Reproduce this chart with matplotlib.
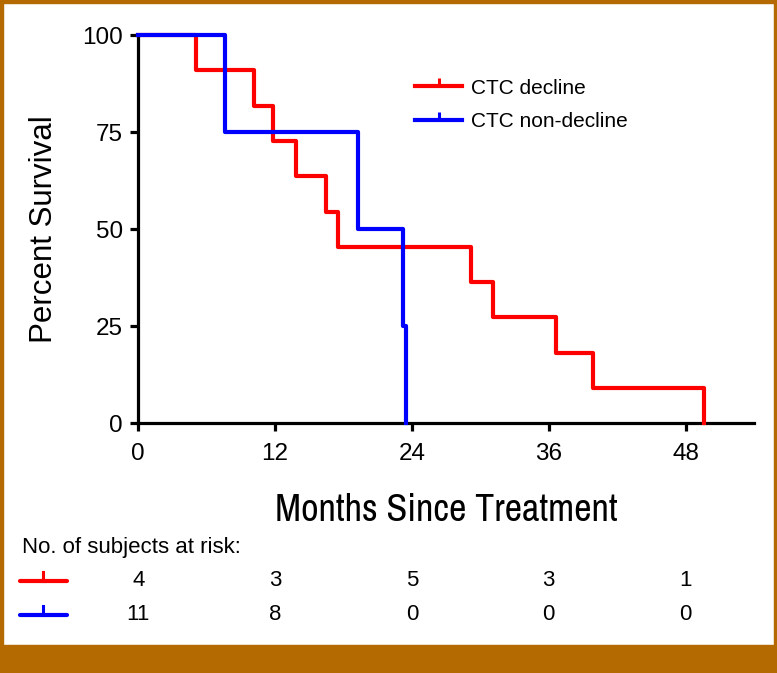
import matplotlib
matplotlib.use("Agg")
import matplotlib.pyplot as plt
import matplotlib.transforms as mtransforms
from matplotlib.lines import Line2D
from matplotlib.path import Path
from matplotlib.patches import Rectangle
from matplotlib import font_manager

# ---- data ----
decline_times = [0, 5.1, 10.15, 11.85, 13.8, 16.5, 17.5, 29.2, 31.1, 36.6, 39.9, 49.6]
decline_surv = [100, 90.9, 81.8, 72.7, 63.6, 54.5, 45.5, 36.4, 27.3, 18.2, 9.1, 0]
nondecline_times = [0, 7.6, 19.3, 23.2, 23.5]
nondecline_surv = [100, 75, 50, 25, 0]
series_labels = ["CTC decline", "CTC non-decline"]
xticks = [0, 12, 24, 36, 48]
yticks = [0, 25, 50, 75, 100]
risk_decline = [4, 3, 5, 3, 1]
risk_nondecline = [11, 8, 0, 0, 0]

RED = "#FF0000"
BLUE = "#0000FF"
FRAME = "#B46A00"

names = {f.name for f in font_manager.fontManager.ttflist}
REG = "Liberation Sans"
NARROW = "Archivo Narrow" if "Archivo Narrow" in names else "Liberation Sans"

W, H = 777, 673
fig = plt.figure(figsize=(W / 100, H / 100), dpi=100)
fig.patch.set_facecolor("white")

# frame
fig.add_artist(Rectangle((0, 0), 1, 28 / H, transform=fig.transFigure, color=FRAME, zorder=0))
fig.add_artist(Rectangle((0, 0), 3 / W, 1, transform=fig.transFigure, color=FRAME, zorder=0))
fig.add_artist(Rectangle((1 - 3 / W, 0), 3 / W, 1, transform=fig.transFigure, color=FRAME, zorder=0))
fig.add_artist(Rectangle((0, 1 - 3 / H), 1, 3 / H, transform=fig.transFigure, color=FRAME, zorder=0))

left, right = 138.3 / W, 754 / W
bottom, top = 1 - 423.3 / H, 1 - 35 / H
ax = fig.add_axes([left, bottom, right - left, top - bottom])

ax.step(decline_times, decline_surv, where="post", color=RED, lw=3.0, clip_on=False, zorder=3)
ax.step(nondecline_times, nondecline_surv, where="post", color=BLUE, lw=3.0, clip_on=False, zorder=4)

ax.set_xlim(0, 54)
ax.set_ylim(0, 100)
for s in ["top", "right"]:
    ax.spines[s].set_visible(False)
for s in ["left", "bottom"]:
    ax.spines[s].set_linewidth(2.3)
ax.set_xticks(xticks)
ax.set_yticks(yticks)
ax.tick_params(axis="both", direction="out", length=6, width=2.3)
ax.tick_params(axis="y", pad=5)
ax.tick_params(axis="x", pad=8)
for lab in ax.get_yticklabels():
    lab.set_fontfamily(REG)
    lab.set_fontsize(17.5)
for lab in ax.get_xticklabels():
    lab.set_fontfamily(REG)
    lab.set_fontsize(17.5)

ax.set_ylabel("Percent Survival", fontfamily=REG, fontsize=22.5, labelpad=17)
ax.set_xlabel("Months Since Treatment", fontfamily=NARROW, fontsize=27.5, labelpad=20)

tick_marker = Path([(0, 0), (0, 1)], [Path.MOVETO, Path.LINETO])
h_red = Line2D([], [], color=RED, lw=3, marker=tick_marker, markersize=11, markeredgewidth=2.2)
h_blue = Line2D([], [], color=BLUE, lw=3, marker=tick_marker, markersize=11, markeredgewidth=2.2)
fig.legend([h_red, h_blue], series_labels, loc="center left",
           bbox_to_anchor=(405 / W, 1 - 105 / H), frameon=False, borderpad=0,
           handlelength=2.25, handletextpad=0.42, labelspacing=0.7,
           prop={"family": REG, "size": 15}, numpoints=1)

# risk table
rax = fig.add_axes([left, 1 - 630 / H, right - left, 100 / H])
rax.set_xlim(0, 54)
rax.set_ylim(0, 1)
rax.axis("off")
blend = mtransforms.blended_transform_factory(rax.transData, fig.transFigure)
fig.text(22 / W, 1 - 548 / H, "No. of subjects at risk:", fontfamily=REG, fontsize=16,
         va="center", ha="left")
row_y = [1 - 581 / H, 1 - 615 / H]
for yy, col, vals in zip(row_y, [RED, BLUE], [risk_decline, risk_nondecline]):
    fig.add_artist(Line2D([20 / W, 67 / W], [yy, yy], transform=fig.transFigure, color=col, lw=3,
                          solid_capstyle="round"))
    fig.add_artist(Line2D([43 / W, 43 / W], [yy, yy + 9 / H], transform=fig.transFigure, color=col, lw=2.2))
    for xv, v in zip(xticks, vals):
        rax.text(xv, yy, str(v), transform=blend, ha="center", va="center",
                 fontfamily=REG, fontsize=16)

fig.savefig("out.png", dpi=100, facecolor="white")
